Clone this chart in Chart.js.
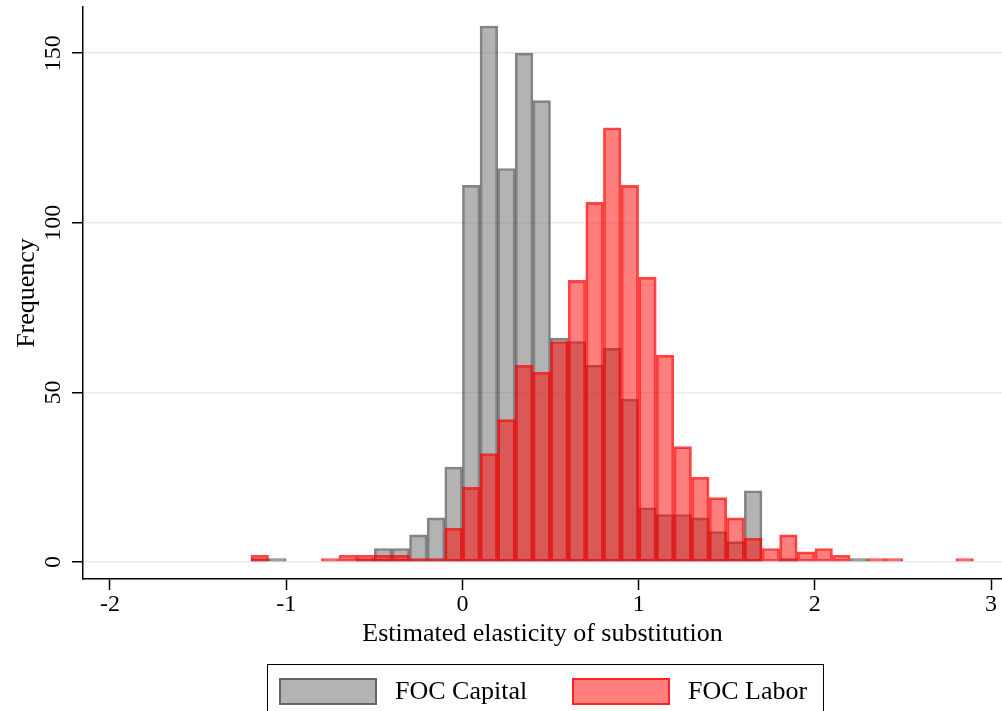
<!DOCTYPE html>
<html lang="en">
<head>
    <meta charset="UTF-8">
    <title>Estimated elasticity of substitution</title>
    <script src="https://cdn.jsdelivr.net/npm/chart.js"></script>
    <style>
        body {
            margin: 0;
            padding: 0;
            background: #fff;
            overflow: hidden;
        }

        .wrap {
            position: relative;
            width: 1002px;
            height: 711px;
        }

        #legend {
            position: absolute;
            left: 267px;
            top: 664px;
            width: 557px;
            height: 60px;
            border: 1.5px solid #000;
            box-sizing: border-box;
            font-family: 'Liberation Serif', 'Times New Roman', serif;
            font-size: 26px;
            color: #000;
        }

        .item {
            position: absolute;
            top: 11px;
            display: flex;
            align-items: center;
        }

        .swatch {
            width: 98px;
            height: 27px;
            box-sizing: border-box;
            border: 2px solid;
            margin-right: 18px;
        }
    </style>
</head>
<body>
    <div class="wrap">
        <canvas id="histChart" width="1002" height="711"></canvas>
        <div id="legend"></div>
    </div>
    <script>
        // lower edge of each 0.1-wide bin
        const binStarts = [
            -1.2, -1.1, -1.0, -0.9, -0.8, -0.7, -0.6, -0.5, -0.4, -0.3, -0.2, -0.1,
            0.0, 0.1, 0.2, 0.3, 0.4, 0.5, 0.6, 0.7, 0.8, 0.9,
            1.0, 1.1, 1.2, 1.3, 1.4, 1.5, 1.6, 1.7, 1.8, 1.9,
            2.0, 2.1, 2.2, 2.3, 2.4, 2.5, 2.6, 2.7, 2.8
        ];
        const binWidth = 0.1;

        // frequencies
        const focCapital = [
            1, 1, 0, 0, 0, 0, 1, 4, 4, 8, 13, 28,
            111, 158, 116, 150, 136, 66, 65, 58, 63, 48,
            16, 14, 14, 13, 9, 6, 21, 0, 1, 0,
            0, 0, 1, 0, 0, 0, 0, 0, 0
        ];
        const focLabor = [
            2, 0, 0, 0, 1, 2, 2, 2, 2, 1, 1, 10,
            22, 32, 42, 58, 56, 65, 83, 106, 128, 111,
            84, 61, 34, 25, 19, 13, 7, 4, 8, 3,
            4, 2, 0, 1, 1, 0, 0, 0, 1
        ];

        const seriesNames = ['FOC Capital', 'FOC Labor'];
        const xTicks = [-2, -1, 0, 1, 2, 3];
        const yTicks = [0, 50, 100, 150];

        const serif = "'Liberation Serif', 'Times New Roman', serif";

        function toPoints(values) {
            return values.map((v, i) => ({ x: binStarts[i] + binWidth / 2, y: v === 0 ? null : v }));
        }

        const capitalFill = 'rgba(128, 128, 128, 0.6)';
        const capitalLine = 'rgba(50, 50, 50, 0.6)';
        const laborFill = 'rgba(255, 0, 0, 0.5)';
        const laborLine = 'rgba(255, 0, 0, 0.72)';

        // keep the chart area where the axis lines are, ignore label overhang
        function noOverhang(scale) {
            scale.paddingTop = 0;
            scale.paddingBottom = 0;
            scale.paddingLeft = 0;
            scale.paddingRight = 0;
        }

        const ctx = document.getElementById('histChart').getContext('2d');
        const chart = new Chart(ctx, {
            type: 'bar',
            data: {
                datasets: [{
                    label: seriesNames[0],
                    data: toPoints(focCapital),
                    backgroundColor: capitalFill,
                    borderColor: capitalLine,
                    borderWidth: 2,
                    borderSkipped: false,
                    grouped: false,
                    barPercentage: 1,
                    categoryPercentage: 1,
                    order: 1
                }, {
                    label: seriesNames[1],
                    data: toPoints(focLabor),
                    backgroundColor: laborFill,
                    borderColor: laborLine,
                    borderWidth: 2,
                    borderSkipped: false,
                    grouped: false,
                    barPercentage: 1,
                    categoryPercentage: 1,
                    order: 0
                }]
            },
            options: {
                responsive: false,
                animation: false,
                devicePixelRatio: 1,
                layout: {
                    padding: { top: 7, right: 0, left: 12, bottom: 61 }
                },
                plugins: {
                    legend: { display: false },
                    tooltip: { enabled: false }
                },
                scales: {
                    x: {
                        type: 'linear',
                        min: -2.153,
                        max: 3.062,
                        offset: false,
                        afterBuildTicks: (scale) => {
                            scale.ticks = xTicks.map(v => ({ value: v }));
                        },
                        afterFit: noOverhang,
                        ticks: {
                            color: '#000',
                            font: { family: serif, size: 24 },
                            padding: 0,
                            maxRotation: 0,
                            autoSkip: false
                        },
                        grid: {
                            offset: false,
                            drawOnChartArea: false,
                            tickLength: 11,
                            tickColor: '#000',
                            tickWidth: 1.5
                        },
                        border: { display: true, color: '#000', width: 1.5 },
                        title: {
                            display: true,
                            text: 'Estimated elasticity of substitution',
                            color: '#000',
                            font: { family: serif, size: 26 },
                            padding: { top: 0, bottom: 0 }
                        }
                    },
                    y: {
                        min: -5,
                        max: 163.6,
                        afterBuildTicks: (scale) => {
                            scale.ticks = yTicks.map(v => ({ value: v }));
                        },
                        afterFit: noOverhang,
                        ticks: {
                            color: '#000',
                            font: { family: serif, size: 24 },
                            minRotation: 90,
                            maxRotation: 90,
                            crossAlign: 'center',
                            padding: 0
                        },
                        grid: {
                            color: '#e3ecef',
                            lineWidth: 1.5,
                            tickLength: 11,
                            tickColor: '#000',
                            tickWidth: 1.5
                        },
                        border: { display: true, color: '#000', width: 1.5 },
                        title: {
                            display: true,
                            text: 'Frequency',
                            color: '#000',
                            font: { family: serif, size: 26 },
                            padding: { top: 0, bottom: 0 }
                        }
                    }
                }
            }
        });

        // Stata-style boxed legend under the plot
        const legend = document.getElementById('legend');
        const itemLefts = [11, 304];
        chart.data.datasets.forEach((ds, i) => {
            const item = document.createElement('div');
            item.className = 'item';
            item.style.left = itemLefts[i] + 'px';
            const sw = document.createElement('span');
            sw.className = 'swatch';
            sw.style.background = ds.backgroundColor;
            sw.style.borderColor = ds.borderColor;
            const label = document.createElement('span');
            label.textContent = ds.label;
            item.appendChild(sw);
            item.appendChild(label);
            legend.appendChild(item);
        });
    </script>
</body>
</html>
